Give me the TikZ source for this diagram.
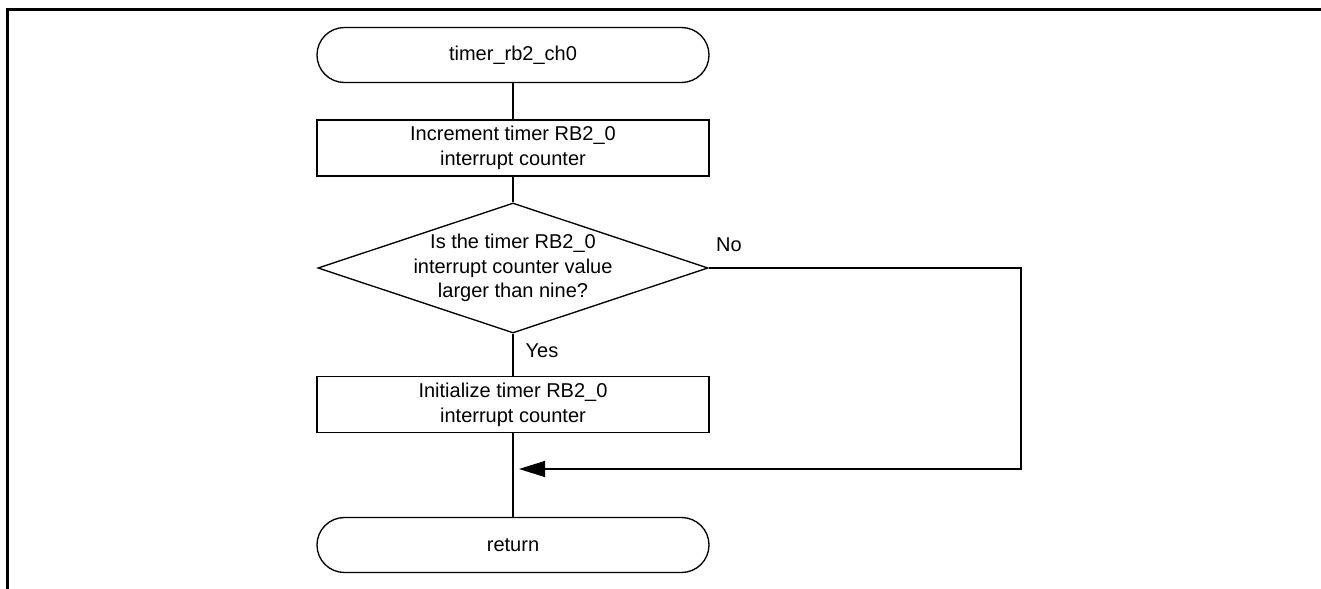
\documentclass[tikz,border=0pt]{standalone}
\usepackage{fontspec}
\setmainfont{Liberation Sans}
\usetikzlibrary{shapes.geometric, arrows.meta, positioning, calc}

\begin{document}
\begin{tikzpicture}[x=0.75pt, y=-0.75pt,
  every node/.style={font=\fontsize{15pt}{18.5pt}\selectfont},
  terminal/.style={draw, line width=1pt, rectangle, rounded corners=20.6pt, minimum width=294pt, minimum height=41.25pt},
  process/.style={draw, line width=1pt, rectangle, minimum width=294pt, minimum height=42pt, align=center},
  decision/.style={draw, line width=1pt, diamond, aspect=3, inner sep=-1.2pt, minimum width=290.25pt, minimum height=97.5pt, align=center},
  flowline/.style={line width=1pt},
  flowarrow/.style={line width=1pt, -{Triangle[length=19.5pt, width=12pt]}, shorten >=4.5pt}]
\useasboundingbox (0,0) rectangle (1321,589);

% Page frame
\draw[line width=2.25pt] (7.5,589) -- (7.5,9.5) -- (1321,9.5);

% Flow nodes
\node[terminal] (start) at (513,55) {timer\_rb2\_ch0};
\node[process] (incr) at (513,148) {Increment timer RB2\_0\\interrupt counter};
\node[decision] (check) at (513,268) {Is the timer RB2\_0\\interrupt counter value\\larger than nine?};
\node[process] (init) at (513,404.5) {Initialize timer RB2\_0\\interrupt counter};
\node[terminal] (ret) at (513,545) {return};

% Branch labels
\node (no) at (729,245) {No};
\node (yes) at (542,351) {Yes};

% Join points
\coordinate (merge) at (513,469);
\coordinate (bend) at (1021,469);

% Connectors
\draw[flowline] (start.south) -- (incr.north);
\draw[flowline] (incr.south) -- (check.north);
\draw[flowline] (check.south) -- (init.north);
\draw[flowline] (init.south) -- (ret.north);
\draw[flowarrow] (check.east) -| (bend) -- (merge);
\end{tikzpicture}
\end{document}
